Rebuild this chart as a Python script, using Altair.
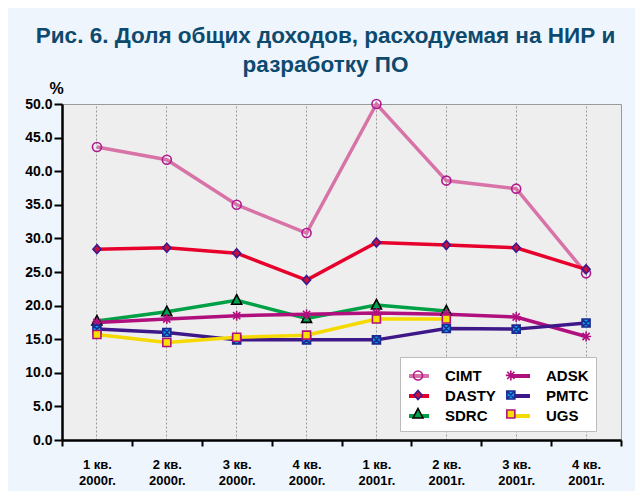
import altair as alt
import pandas as pd

quarters = ["1 кв.|2000г.", "2 кв.|2000г.", "3 кв.|2000г.", "4 кв.|2000г.",
            "1 кв.|2001г.", "2 кв.|2001г.", "3 кв.|2001г.", "4 кв.|2001г."]
series = ["CIMT", "DASTY", "SDRC", "ADSK", "PMTC", "UGS"]
cimt = [43.6, 41.7, 35.0, 30.8, 50.0, 38.6, 37.4, 24.8]
dasty = [28.4, 28.6, 27.8, 23.8, 29.4, 29.0, 28.6, 25.4]
sdrc = [17.7, 19.1, 20.8, 18.1, 20.1, 19.2, None, None]
adsk = [17.5, 18.0, 18.5, 18.7, 18.9, 18.7, 18.3, 15.4]
pmtc = [16.5, 16.0, 14.9, 14.9, 14.9, 16.6, 16.5, 17.4]
ugs = [15.7, 14.5, 15.3, 15.6, 18.0, 18.0, None, None]
values = {"CIMT": cimt, "DASTY": dasty, "SDRC": sdrc, "ADSK": adsk, "PMTC": pmtc, "UGS": ugs}

rows = []
for s in series:
    for i, (q, v) in enumerate(zip(quarters, values[s])):
        if v is not None:
            rows.append({"q": q, "i": i, "s": s, "v": v})
df = pd.DataFrame(rows)

FONT = "Liberation Sans"
line_colors = ["#D873A8", "#E8002C", "#00A046", "#B0107E", "#3E1888", "#F4DA00"]
mk_stroke = ["#B01890", "#3A1A90", "#000000", "#B0107E", "#1A2A90", "#B0107A"]
mk_fill = ["transparent", "#C8103E", "#00A050", "transparent", "#10A0E8", "#F8E000"]

SYM = 400
R = (SYM ** 0.5) / 2.0


def sc(v):
    return "%.3f" % (v / R)


shapes = [
    # circle
    f"M{sc(4.5)},0A{sc(4.5)},{sc(4.5)},0,1,1,-{sc(4.5)},0A{sc(4.5)},{sc(4.5)},0,1,1,{sc(4.5)},0Z",
    # diamond
    f"M0,-{sc(4.5)}L{sc(4)},0L0,{sc(4.5)}L-{sc(4)},0Z",
    # triangle
    f"M0,-{sc(5.5)}L{sc(5)},{sc(4)}L-{sc(5)},{sc(4)}Z",
    # asterisk
    f"M-{sc(5)},0L{sc(5)},0M0,-{sc(5)}L0,{sc(5)}M-{sc(3.6)},-{sc(3.6)}L{sc(3.6)},{sc(3.6)}M-{sc(3.6)},{sc(3.6)}L{sc(3.6)},-{sc(3.6)}",
    # square with x
    f"M-{sc(4)},-{sc(4)}L{sc(4)},-{sc(4)}L{sc(4)},{sc(4)}L-{sc(4)},{sc(4)}ZM-{sc(3)},-{sc(3)}L{sc(3)},{sc(3)}M-{sc(3)},{sc(3)}L{sc(3)},-{sc(3)}",
    # square
    f"M-{sc(4)},-{sc(4)}L{sc(4)},-{sc(4)}L{sc(4)},{sc(4)}L-{sc(4)},{sc(4)}Z",
]

LX, LY = 338, 253
LABEL_SIZE = 15
LABEL_OFFSET = 14
COL_PAD = 6
# widest first-column label ("DASTY") in bold Liberation Sans, em units
MAXW1 = 3.389 * LABEL_SIZE


def legend(**kw):
    base = dict(orient="none", legendX=LX, legendY=LY, columns=2, title=None,
                symbolSize=SYM, labelFont=FONT, labelFontSize=LABEL_SIZE,
                labelFontWeight="bold", labelAlign="left",
                labelColor="black", labelOffset=LABEL_OFFSET, columnPadding=COL_PAD,
                rowPadding=-1, padding=7, labelLimit=200)
    base.update(kw)
    return alt.Legend(**base)


marker_legend = dict(symbolStrokeWidth=1.6, labelExpr="''", labelOffset=0,
                     columnPadding=LABEL_OFFSET + MAXW1 + COL_PAD)

x_enc_lines = alt.X("q:N", sort=quarters,
                    scale=alt.Scale(type="band", paddingInner=0, paddingOuter=0),
                    axis=alt.Axis(title=None, grid=False, tickBand="extent", ticks=True,
                                  tickColor="black", tickWidth=2, tickSize=6,
                                  domainColor="black", domainWidth=2.5,
                                  labelExpr="split(datum.label, '|')", labelAngle=0,
                                  labelFont=FONT, labelFontSize=13, labelFontWeight="bold",
                                  labelColor="black", labelPadding=12, labelLineHeight=16))
x_enc_pts = alt.X("q:N", sort=quarters,
                  scale=alt.Scale(type="band", paddingInner=0, paddingOuter=0),
                  axis=alt.Axis(title=None, grid=True, gridDash=[2, 2], gridColor="#999999",
                                gridWidth=1, bandPosition=0.5, ticks=False, labels=False,
                                domain=False))
y_enc = alt.Y("v:Q", scale=alt.Scale(domain=[0, 50], nice=False),
              axis=alt.Axis(title="%", titleAngle=0, titleX=-6, titleY=-8, titleAlign="center",
                            titleBaseline="bottom", titleFont=FONT, titleFontSize=16,
                            titleFontWeight="bold", titleColor="black",
                            values=[0, 5, 10, 15, 20, 25, 30, 35, 40, 45, 50], format=".1f",
                            grid=False, tickColor="black", tickWidth=2, tickSize=8,
                            domainColor="black", domainWidth=2.5, labelPadding=2,
                            labelFont=FONT, labelFontSize=14, labelFontWeight="bold",
                            labelColor="black"))

lines = alt.Chart(df).mark_line(strokeWidth=3.5).encode(
    x=x_enc_lines, y=y_enc,
    stroke=alt.Stroke("s:N", scale=alt.Scale(domain=series, range=line_colors),
                      legend=legend(symbolType="stroke", symbolStrokeWidth=4,
                                    fillColor="white", strokeColor="#BBBBBB")),
    order=alt.Order("i:Q"),
)

pts = alt.Chart(df).mark_point(size=SYM, strokeWidth=1.6, opacity=1).encode(
    x=x_enc_pts, y=y_enc,
    stroke=alt.Stroke("s:N", scale=alt.Scale(domain=series, range=mk_stroke),
                      legend=legend(**marker_legend)),
    fill=alt.Fill("s:N", scale=alt.Scale(domain=series, range=mk_fill),
                  legend=legend(**marker_legend)),
    shape=alt.Shape("s:N", scale=alt.Scale(domain=series, range=shapes),
                    legend=legend(**marker_legend)),
)

chart = alt.layer(lines, pts).resolve_scale(
    stroke="independent", fill="independent", shape="independent"
).resolve_legend(
    stroke="independent", fill="independent", shape="independent"
).resolve_axis(x="independent").properties(
    width=559, height=336,
    autosize=alt.AutoSizeParams(type="none"),
    padding={"left": 54, "top": 96, "right": 14, "bottom": 51},
    background="#EEF5FC",
    title=alt.Title(["Рис. 6. Доля общих доходов, расходуемая на НИР и", "разработку ПО"],
                    font=FONT, fontSize=22.5, fontWeight="bold", color="#0D4A6E",
                    anchor="middle", dx=-16, offset=4, lineHeight=29),
).configure_view(fill="#EEEEEE", stroke="#9A9A9A", strokeWidth=1)

chart.save("out.html", embed_options={"renderer": "svg", "actions": False})
